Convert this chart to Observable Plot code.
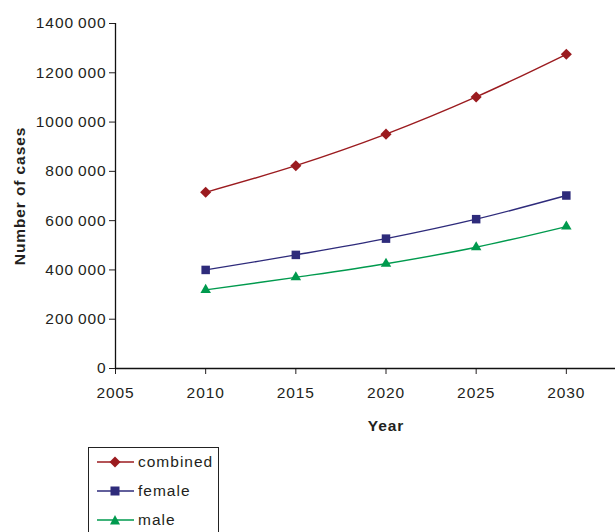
<!DOCTYPE html>
<html>
<head>
<meta charset="utf-8">
<script src="https://cdn.jsdelivr.net/npm/d3@7"></script>
<script src="https://cdn.jsdelivr.net/npm/@observablehq/plot@0.6"></script>
<style>
  html, body { margin: 0; padding: 0; background: #fff; }
  #wrap { position: relative; width: 615px; height: 532px; overflow: hidden; font-family: "Liberation Sans", Arial, sans-serif; }
  #chart { position: absolute; left: 0; top: 0; width: 656px; }
  #chart svg { max-width: none !important; width: 656px; height: 445px; }
  g[aria-label="y-axis label"] text, g[aria-label="x-axis label"] text { font-weight: bold; }
  #legend { position: absolute; left: 88px; top: 447px; width: 129px; height: 100px; border: 1px solid #222; background: #fff; }
  .item { position: absolute; left: 8px; height: 20px; display: flex; align-items: center; font-size: 15.5px; letter-spacing: 1px; color: #231f20; }
  .item svg { margin-right: 4px; }
</style>
</head>
<body>
<div id="wrap">
  <div id="chart"></div>
  <div id="legend"></div>
</div>
<script>
const years = [2010, 2015, 2020, 2025, 2030];
const combined = [715000, 823000, 951000, 1102000, 1275000];
const female = [400000, 461000, 527000, 606000, 702000];
const male = [319000, 370000, 425000, 492000, 576000];
const seriesNames = ["combined", "female", "male"];
const seriesValues = [combined, female, male];
const colors = ["#9b1b1f", "#2e2b7b", "#009a4e"];
const symbols = ["diamond2", "square", "triangle"];
const markerRadius = [5, 4.8, 3.9];
const xTicks = [2005, 2010, 2015, 2020, 2025, 2030];
const yTicks = [0, 200000, 400000, 600000, 800000, 1000000, 1200000, 1400000];

const data = [];
seriesNames.forEach((s, i) => years.forEach((y, j) => data.push({series: s, year: y, value: seriesValues[i][j]})));

const fmt = d => {
  const s = String(d);
  return s.length > 3 ? s.slice(0, -3) + "\u2009" + s.slice(-3) : s;
};

const chart = Plot.plot({
  width: 656,
  height: 445,
  marginLeft: 115,
  marginRight: 0,
  marginTop: 23,
  marginBottom: 77,
  style: {fontFamily: "Liberation Sans, Arial, sans-serif", fontSize: "15.5px", letterSpacing: "0.9px", color: "#231f20", background: "transparent", maxWidth: "none"},
  x: {domain: [2005, 2035]},
  y: {domain: [0, 1400000]},
  color: {domain: seriesNames, range: colors},
  symbol: {domain: seriesNames, range: symbols},
  marks: [
    Plot.axisY({ticks: yTicks, tickFormat: fmt, tickSize: 6, tickPadding: 3, label: "Number of cases", labelAnchor: "center", labelArrow: "none", labelOffset: 102}),
    Plot.axisX({ticks: xTicks, tickFormat: d => String(d), tickSize: 6, tickPadding: 12, label: "Year", labelAnchor: "center", labelArrow: "none", labelOffset: 62}),
    Plot.ruleY([0], {stroke: "#111", strokeWidth: 1.3}),
    Plot.ruleX([2005], {stroke: "#111", strokeWidth: 1.3}),
    Plot.line(data, {x: "year", y: "value", z: "series", stroke: "series", strokeWidth: 1.4, curve: "catmull-rom"}),
    ...seriesNames.map((s, i) => Plot.dot(data.filter(d => d.series === s), {x: "year", y: "value", symbol: "series", fill: "series", stroke: "none", r: markerRadius[i]}))
  ]
});
document.getElementById("chart").appendChild(chart);

const legend = document.getElementById("legend");
const shapes = {
  diamond2: c => `<path d="M18,1.5 L23.5,7 L18,12.5 L12.5,7 Z" fill="${c}"/>`,
  square: c => `<rect x="13.5" y="2.5" width="9" height="9" fill="${c}"/>`,
  triangle: c => `<path d="M18,2 L23,11.5 L13,11.5 Z" fill="${c}"/>`
};
seriesNames.forEach((s, i) => {
  const div = document.createElement("div");
  div.className = "item";
  div.style.top = (4 + i * 29) + "px";
  div.innerHTML = `<svg width="37" height="14"><line x1="0" x2="37" y1="7" y2="7" stroke="${colors[i]}" stroke-width="1.5"/>${shapes[symbols[i]](colors[i])}</svg><span>${s}</span>`;
  legend.appendChild(div);
});
</script>
</body>
</html>
